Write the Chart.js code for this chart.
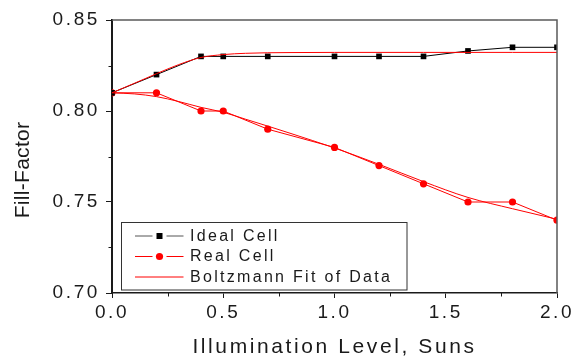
<!DOCTYPE html>
<html>
<head>
<meta charset="utf-8">
<script src="https://cdn.jsdelivr.net/npm/chart.js@4"></script>
<style>
  html, body { margin: 0; padding: 0; background: #fff; }
  #wrap { width: 579px; height: 358px; }
</style>
</head>
<body>
<div id="wrap"><canvas id="myChart" width="579" height="358"></canvas></div>
<script>
const illumination = [0, 0.2, 0.4, 0.5, 0.7, 1.0, 1.2, 1.4, 1.6, 1.8, 2.0];
const idealCell = [0.810, 0.820, 0.830, 0.830, 0.830, 0.830, 0.830, 0.830, 0.833, 0.835, 0.835];
const realCell = [0.810, 0.810, 0.800, 0.800, 0.790, 0.780, 0.770, 0.760, 0.750, 0.750, 0.740];

const fitX = [0, 0.1, 0.2, 0.3, 0.4, 0.5, 0.6, 0.7, 0.8, 1.0, 1.2, 1.4, 1.6, 1.8, 2.0];
const idealFit = [0.810, 0.8152, 0.8205, 0.8255, 0.8294, 0.8310, 0.8317, 0.8320, 0.8321, 0.8322, 0.8322, 0.8322, 0.8322, 0.8322, 0.8322];
const realFit = [0.810, 0.8094, 0.8079, 0.8052, 0.8020, 0.7993, 0.7955, 0.7917, 0.7878, 0.7797, 0.7707, 0.7612, 0.7525, 0.7463, 0.7405];

const xTickLabels = ["0.0", "0.5", "1.0", "1.5", "2.0"];
const yTickLabels = ["0.70", "0.75", "0.80", "0.85"];

const xTitle = "Illumination Level, Suns";
const yTitle = "Fill-Factor";
const seriesNames = ["Ideal Cell", "Real Cell", "Boltzmann Fit of Data"];

const FONT = "'Liberation Sans', Arial, sans-serif";
const INK = "#1a1a1a";
const RED = "#ff0000";

const toPoints = (xs, ys) => xs.map((x, i) => ({ x, y: ys[i] }));

// spacing, frame, minor ticks, y title and the boxed legend
const decor = {
  id: "decor",
  beforeDraw(chart) {
    chart.ctx.letterSpacing = "2.6px";
  },
  afterDraw(chart) {
    const { ctx, chartArea: a, scales } = chart;
    ctx.save();

    // top + right frame
    ctx.strokeStyle = "#5a5a5a";
    ctx.lineWidth = 1.5;
    ctx.beginPath();
    ctx.moveTo(a.left, a.top);
    ctx.lineTo(a.right, a.top);
    ctx.lineTo(a.right, a.bottom);
    ctx.stroke();

    // minor ticks
    ctx.strokeStyle = INK;
    ctx.lineWidth = 1;
    scales.x.ticks.forEach((t, i) => {
      if (i % 2 === 0) return;
      const px = Math.round(scales.x.getPixelForValue(t.value)) + 0.5;
      ctx.beginPath();
      ctx.moveTo(px, a.bottom);
      ctx.lineTo(px, a.bottom + 3.5);
      ctx.stroke();
    });
    scales.y.ticks.forEach((t, i) => {
      if (i % 2 === 0) return;
      const py = Math.round(scales.y.getPixelForValue(t.value)) + 0.5;
      ctx.beginPath();
      ctx.moveTo(a.left, py);
      ctx.lineTo(a.left - 3.5, py);
      ctx.stroke();
    });

    // y title
    ctx.save();
    ctx.translate(23, 170);
    ctx.rotate(-Math.PI / 2);
    ctx.letterSpacing = "0.3px";
    ctx.font = `21px ${FONT}`;
    ctx.fillStyle = INK;
    ctx.textAlign = "center";
    ctx.textBaseline = "middle";
    ctx.fillText(yTitle, 0, 0);
    ctx.restore();

    // legend
    const bx = 121.5, by = 222.5, bw = 285.5, bh = 67.5;
    ctx.fillStyle = "#fff";
    ctx.fillRect(bx, by, bw, bh);
    ctx.strokeStyle = "#333";
    ctx.lineWidth = 1;
    ctx.strokeRect(bx, by, bw, bh);

    const rows = [236, 256.5, 277];
    const x0 = 135, x1 = 183.5, mx = 159.5;
    ctx.font = `16px ${FONT}`;
    ctx.letterSpacing = "2.3px";
    ctx.textAlign = "left";
    ctx.textBaseline = "middle";

    rows.forEach((y, i) => {
      const ds = chart.data.datasets[i];
      const lineCol = i === 0 ? "#555" : RED;
      ctx.strokeStyle = lineCol;
      ctx.lineWidth = 1;
      ctx.beginPath();
      if (i < 2) {
        ctx.moveTo(x0, y);
        ctx.lineTo(mx - 7, y);
        ctx.moveTo(mx + 7, y);
        ctx.lineTo(x1, y);
      } else {
        ctx.moveTo(x0, y);
        ctx.lineTo(x1, y);
      }
      ctx.stroke();
      if (i === 0) {
        ctx.fillStyle = "#000";
        ctx.fillRect(mx - 3, y - 3, 6, 6);
      } else if (i === 1) {
        ctx.fillStyle = RED;
        ctx.beginPath();
        ctx.arc(mx, y, 3.6, 0, Math.PI * 2);
        ctx.fill();
      }
      ctx.fillStyle = INK;
      ctx.fillText(ds.label, 190, y + 0.5);
    });

    ctx.restore();
  },
};

new Chart("myChart", {
  type: "line",
  data: {
    datasets: [
      {
        label: seriesNames[0],
        data: toPoints(illumination, idealCell),
        borderColor: "#000",
        backgroundColor: "#000",
        borderWidth: 1,
        pointStyle: "rect",
        pointRadius: 4,
        pointBorderWidth: 0,
        tension: 0,
        order: 2,
      },
      {
        label: seriesNames[1],
        data: toPoints(illumination, realCell),
        borderColor: RED,
        backgroundColor: RED,
        borderWidth: 1,
        pointStyle: "circle",
        pointRadius: 3.6,
        pointBorderWidth: 0,
        tension: 0,
        order: 3,
      },
      {
        label: seriesNames[2],
        data: toPoints(fitX, idealFit),
        borderColor: RED,
        borderWidth: 1,
        pointRadius: 0,
        cubicInterpolationMode: "monotone",
        order: 1,
      },
      {
        label: seriesNames[2] + " (real)",
        data: toPoints(fitX, realFit),
        borderColor: RED,
        borderWidth: 1,
        pointRadius: 0,
        cubicInterpolationMode: "monotone",
        order: 1,
      },
    ],
  },
  options: {
    responsive: false,
    animation: false,
    devicePixelRatio: 1,
    layout: { padding: { top: 20, right: 22, left: 0, bottom: 0 } },
    plugins: {
      legend: { display: false },
      tooltip: { enabled: false },
    },
    scales: {
      x: {
        type: "linear",
        min: 0,
        max: 2,
        afterFit: scale => { scale.height = 65; },
        border: { color: INK, width: 1.5 },
        grid: {
          drawOnChartArea: false,
          drawTicks: true,
          tickLength: 5,
          tickColor: ctx => (ctx.index % 2 === 0 ? INK : "transparent"),
        },
        ticks: {
          stepSize: 0.25,
          autoSkip: false,
          maxRotation: 0,
          padding: 3,
          color: INK,
          font: { family: FONT, size: 19 },
          callback: (v, i) => (i % 2 === 0 ? xTickLabels[i / 2] : ""),
        },
        title: {
          display: true,
          text: xTitle,
          color: INK,
          font: { family: FONT, size: 21, lineHeight: 1 },
          padding: { top: 0, bottom: 0.5 },
        },
      },
      y: {
        min: 0.7,
        max: 0.85,
        afterFit: scale => { scale.width = 112; },
        border: { color: INK, width: 2 },
        grid: {
          drawOnChartArea: false,
          drawTicks: true,
          tickLength: 6,
          tickColor: ctx => (ctx.index % 2 === 0 ? INK : "transparent"),
        },
        ticks: {
          stepSize: 0.025,
          autoSkip: false,
          padding: 6,
          color: INK,
          font: { family: FONT, size: 19 },
          callback: (v, i) => (i % 2 === 0 ? yTickLabels[i / 2] : ""),
        },
        title: { display: false },
      },
    },
  },
  plugins: [decor],
});
</script>
</body>
</html>
